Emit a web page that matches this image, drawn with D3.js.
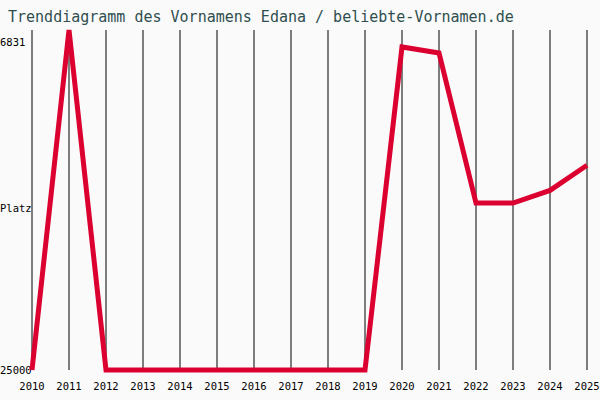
<!DOCTYPE html>
<html><head><meta charset="utf-8">
<script src="https://cdn.jsdelivr.net/npm/d3@7"></script>
<style>body{margin:0;background:#fafafa}</style>
</head><body>
<svg id="chart" width="600" height="400"></svg>
<script>
// Chart data
const years = [2010,2011,2012,2013,2014,2015,2016,2017,2018,2019,2020,2021,2022,2023,2024,2025];
const ranks = [25000,6166,25000,25000,25000,25000,25000,25000,25000,25000,7108,7440,15750,15750,15050,13660];
const yTicks = [6831, 25000];

const svg = d3.select("#chart");
svg.append("rect").attr("width", 600).attr("height", 400).attr("fill", "#fafafa");

const x = d3.scaleLinear().domain([2010, 2025]).range([32, 587]);
const y = d3.scaleLinear().domain([6166, 25000]).range([30, 370]);

// Title
svg.append("text").attr("x", 8).attr("y", 22)
  .attr("font-family", "DejaVu Sans Mono, monospace").attr("font-size", 15)
  .attr("fill", "#2f4f4f").text("Trenddiagramm des Vornamens Edana / beliebte-Vornamen.de");

// Vertical grid lines per year
svg.selectAll("line.grid").data(years).enter().append("line")
  .attr("x1", d => x(d)).attr("x2", d => x(d))
  .attr("y1", 30).attr("y2", 370)
  .attr("stroke", "#000").attr("stroke-width", 1);

// Year labels
svg.selectAll("text.year").data(years).enter().append("text")
  .attr("x", d => x(d)).attr("y", 390).attr("text-anchor", "middle")
  .attr("font-family", "DejaVu Sans Mono, monospace").attr("font-size", 10.5)
  .attr("fill", "#000").text(d => d);

// Y labels
svg.selectAll("text.ytick").data(yTicks).enter().append("text")
  .attr("x", 0).attr("y", d => y(d) + 4)
  .attr("font-family", "DejaVu Sans Mono, monospace").attr("font-size", 10.5)
  .attr("fill", "#000").text(d => d);
svg.append("text").attr("x", 0).attr("y", 212)
  .attr("font-family", "DejaVu Sans Mono, monospace").attr("font-size", 10.5)
  .text("Platz");

// Trend line
const line = d3.line().x((d, i) => x(years[i])).y(d => y(d));
svg.append("path").datum(ranks).attr("d", line)
  .attr("fill", "none").attr("stroke", "#dc0030").attr("stroke-width", 5)
  .attr("stroke-linejoin", "miter");
</script>
</body></html>
